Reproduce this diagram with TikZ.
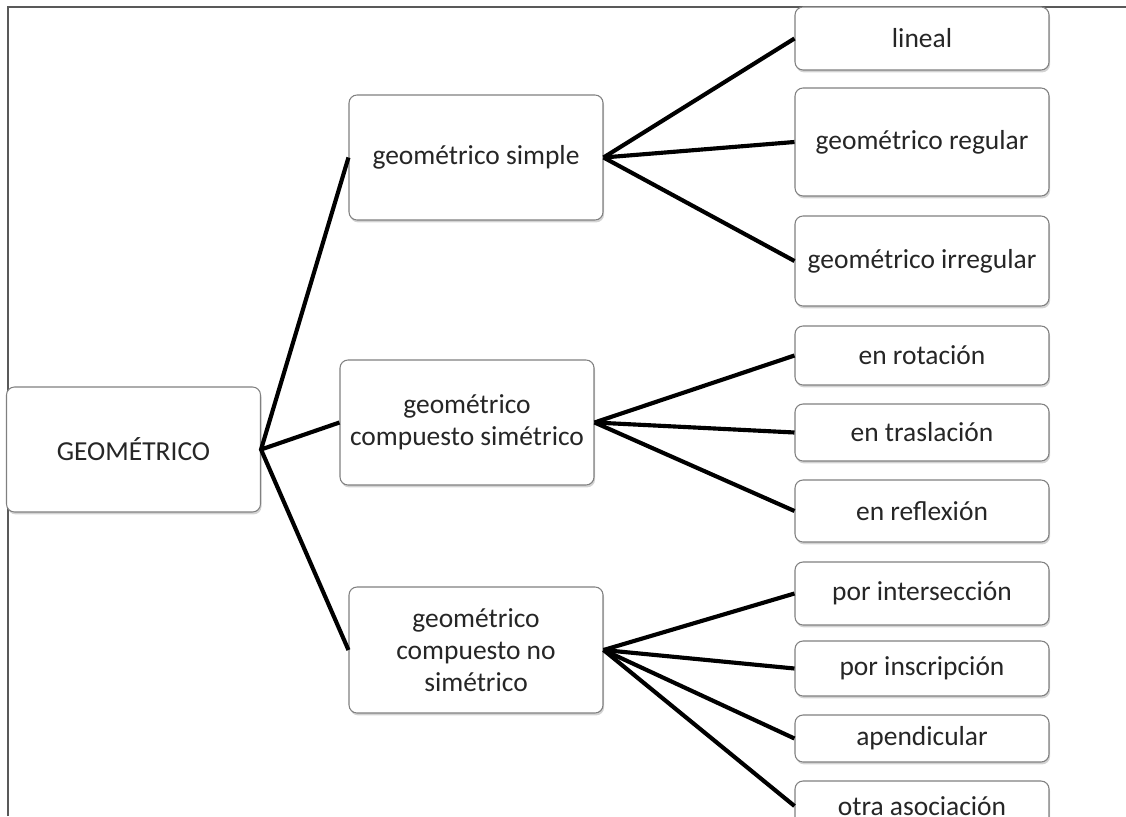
\documentclass[tikz,border=0pt]{standalone}
\usepackage{fontspec}
\setmainfont{Carlito}
\usetikzlibrary{shadows}
\tikzset{
	caja/.style={draw=black!50, fill=white, rounded corners=6pt, line width=0.8pt,
		minimum width=190.5pt, minimum height=#1*0.75pt, inner sep=0pt, align=center,
		font=\fontsize{20.6}{23.8}\selectfont, text=black!85,
		drop shadow={shadow xshift=0.8pt, shadow yshift=-1.8pt, opacity=0.35}},
	rama/.style={line width=3.1pt, black},
	marco/.style={line width=1.4pt, black!65}
}

\begin{document}
\begin{tikzpicture}[x=0.75pt, y=-0.75pt]
			%%%%% START %%%%%
			
			\useasboundingbox (0, 0) rectangle (1126, 816);
			\clip (0, 0) rectangle (1126, 816);
			
			\draw[marco] (8, 816) -- (8, 7) -- (1126, 7);
			
			\node[caja=125] (geo) at (133.5, 449.5) {GEOMÉTRICO};
			
			\node[caja=125] (simple) at (476, 157.5) {geométrico simple};
			\node[caja=125] (sim) at (467, 422.5) {geométrico\\compuesto simétrico};
			\node[caja=126] (nosim) at (476, 650) {geométrico\\compuesto no\\simétrico};
			
			\node[caja=63] (lineal) at (922, 38.5) {lineal};
			\node[caja=108] (regular) at (922, 142) {geométrico regular};
			\node[caja=90] (irregular) at (922, 261) {geométrico irregular};
			
			\node[caja=59] (rotacion) at (922, 355.5) {en rotación};
			\node[caja=57] (traslacion) at (922, 432.5) {en traslación};
			\node[caja=62] (reflexion) at (922, 511) {en reflexión};
			
			\node[caja=63] (interseccion) at (922, 593.5) {por intersección};
			\node[caja=55] (inscripcion) at (922, 668.5) {por inscripción};
			\node[caja=47] (apendicular) at (922, 738.5) {apendicular};
			\node[caja=50] (otra) at (922, 806) {otra asociación};
			
			\draw[rama] (simple.west) -- (geo.east) -- (nosim.west);
			\draw[rama] (geo.east) -- (sim.west);
			
			\draw[rama] (simple.east) -- (lineal.west);
			\draw[rama] (simple.east) -- (regular.west);
			\draw[rama] (simple.east) -- (irregular.west);
			
			\draw[rama] (sim.east) -- (rotacion.west);
			\draw[rama] (sim.east) -- (traslacion.west);
			\draw[rama] (sim.east) -- (reflexion.west);
			
			\draw[rama] (nosim.east) -- (interseccion.west);
			\draw[rama] (nosim.east) -- (inscripcion.west);
			\draw[rama] (nosim.east) -- (apendicular.west);
			\draw[rama] (nosim.east) -- (otra.west);
			
			%%%%% END %%%%%
\end{tikzpicture}
\end{document}
